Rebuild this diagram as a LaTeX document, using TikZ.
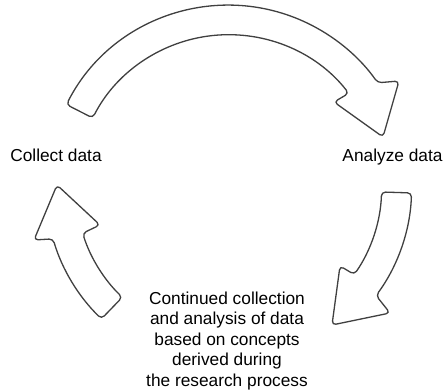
\documentclass[tikz,border=0pt]{standalone}
\usepackage{fontspec}
\setmainfont{Liberation Sans}
\usetikzlibrary{calc}
\definecolor{linec}{HTML}{404040}
\tikzset{
  blockarrow/.style={draw=linec, line width=1.3pt, fill=white, rounded corners=4pt, line join=round},
  lbl/.style={font=\fontsize{17.3pt}{20.5pt}\selectfont, text=black, inner sep=0pt}
}
\begin{document}
\begin{tikzpicture}[x=1pt,y=1pt]
\useasboundingbox (0,0) rectangle (448,391);
\coordinate (C) at (228.6,203.8);
% top arrow
\draw[blockarrow] ($(C)+(153:182)$) arc[start angle=153,end angle=35,radius=182pt]
  -- (399,310) -- (383,254) -- (334,289) -- ($(C)+(38:152.5)$)
  arc[start angle=38,end angle=153,radius=152.5pt] -- cycle;
% right arrow
\draw[blockarrow] ($(C)+(-1.8:183)$) arc[start angle=-1.8,end angle=-36.3,radius=183pt]
  -- (390,78) -- (332,66) -- (340,125) -- ($(C)+(-34.8:153)$)
  arc[start angle=-34.8,end angle=-1.8,radius=153pt] -- cycle;
% left arrow
\draw[blockarrow] ($(C)+(226:183)$) arc[start angle=226,end angle=196.4,radius=183pt]
  -- (34,151) -- (57,206) -- (100,166) -- ($(C)+(197.5:153)$)
  arc[start angle=197.5,end angle=226,radius=153pt] -- cycle;
\node[lbl, anchor=base] (collect) at (56,229) {Collect data};
\node[lbl, anchor=base] (analyze) at (392.5,229) {Analyze data};
\node[lbl, anchor=north, align=center] (cont) at (227,99.5) {Continued collection\\and analysis of data\\based on concepts\\derived during\\the research process};
\end{tikzpicture}
\end{document}
